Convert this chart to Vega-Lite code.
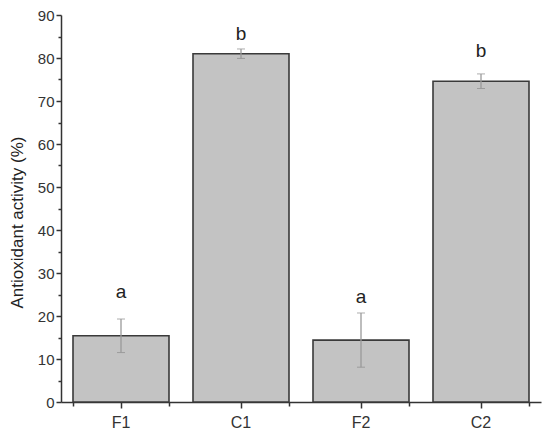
{
  "$schema": "https://vega.github.io/schema/vega-lite/v6.json",
  "autosize": "none",
  "width": 480,
  "height": 387,
  "padding": {"left": 61, "top": 15, "right": 9, "bottom": 35},
  "background": "white",
  "config": {
    "view": {"stroke": null},
    "font": "Liberation Sans",
    "axis": {"domainColor": "#333", "tickColor": "#333", "labelColor": "#333", "titleColor": "#222", "grid": false, "labelFont": "Liberation Sans", "titleFont": "Liberation Sans", "domainWidth": 1.5, "tickWidth": 1.5}
  },
  "data": {"values": [
    {"group": "F1", "mean": 15.4, "err": 3.9, "letter": "a", "letterAt": 24.2},
    {"group": "C1", "mean": 81.0, "err": 1.1, "letter": "b", "letterAt": 84.2},
    {"group": "F2", "mean": 14.4, "err": 6.3, "letter": "a", "letterAt": 23.0},
    {"group": "C2", "mean": 74.6, "err": 1.7, "letter": "b", "letterAt": 80.2}
  ]},
  "resolve": {"axis": {"x": "independent", "y": "independent"}},
  "layer": [
    {
      "mark": {"type": "bar", "fill": "#c3c3c3", "stroke": "#3a3a3a", "strokeWidth": 1.6},
      "encoding": {
        "x": {"field": "group", "type": "nominal", "sort": null,
              "scale": {"paddingInner": 0.2, "paddingOuter": 0.1},
              "axis": {"title": null, "labelAngle": 0, "labelFontSize": 16, "tickSize": 6, "labelPadding": 6, "orient": "bottom"}},
        "y": {"field": "mean", "type": "quantitative",
              "scale": {"domain": [0, 90], "nice": false, "zero": true},
              "axis": {"title": "Antioxidant activity (%)", "titleFontSize": 17, "titleFontWeight": "normal", "values": [0,10,20,30,40,50,60,70,80,90], "labelFontSize": 15, "tickSize": 5, "labelPadding": 2, "titleX": -44, "titleY": 207, "titleAngle": -90, "titleBaseline": "middle", "titleAlign": "center", "orient": "left"}}
      }
    },
    {
      "mark": {"type": "errorbar", "ticks": {"size": 8, "color": "#8a8a8a", "strokeWidth": 1.5}, "rule": {"color": "#9a9a9a", "strokeWidth": 1.3}},
      "encoding": {
        "x": {"field": "group", "type": "nominal", "sort": null,
              "axis": {"title": null, "labels": false, "tickBand": "extent", "tickSize": 4, "domain": false, "orient": "bottom"}},
        "y": {"field": "mean", "type": "quantitative",
              "axis": {"title": null, "labels": false, "domain": false, "values": [5,15,25,35,45,55,65,75,85], "tickSize": 3, "orient": "left"}},
        "yError": {"field": "err"}
      }
    },
    {
      "mark": {"type": "text", "fontSize": 19, "color": "#222", "baseline": "alphabetic"},
      "encoding": {
        "x": {"field": "group", "type": "nominal", "sort": null, "axis": null},
        "y": {"field": "letterAt", "type": "quantitative", "axis": null},
        "text": {"field": "letter"}
      }
    }
  ]
}
